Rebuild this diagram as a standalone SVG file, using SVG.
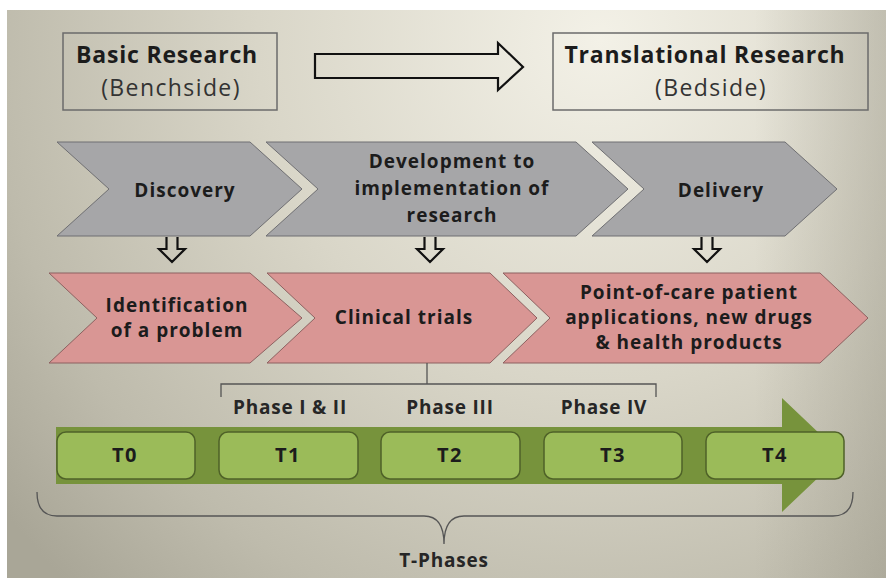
<svg xmlns="http://www.w3.org/2000/svg" width="886" height="578" viewBox="0 0 886 578">
  <defs>
    <radialGradient id="bg" cx="600" cy="40" r="760" gradientUnits="userSpaceOnUse">
      <stop offset="0" stop-color="#f3f1e7"/>
      <stop offset="0.45" stop-color="#d9d6c8"/>
      <stop offset="0.8" stop-color="#bebbac"/>
      <stop offset="1" stop-color="#a9a697"/>
    </radialGradient>
    <linearGradient id="edge" x1="0" y1="0" x2="1" y2="0">
      <stop offset="0.85" stop-color="#8e8b7c" stop-opacity="0"/>
      <stop offset="1" stop-color="#8e8b7c" stop-opacity="0.35"/>
    </linearGradient>
    <style>
      .t { font-family: "Open Sans", Lato, "Liberation Sans", sans-serif; fill: #1c1c1c; text-anchor: middle; }
      .b { font-weight: bold; }
      .head { font-size: 23px; letter-spacing: 0.8px; }
      .sub { font-size: 23px; letter-spacing: 1.4px; fill: #333; }
      .lbl { font-size: 19px; letter-spacing: 1px; }
      .ph { font-size: 19px; letter-spacing: 0.8px; fill: #262626; }
      .tl { font-size: 20px; letter-spacing: 1.5px; }
      .box { fill: none; stroke: #6b6b6b; stroke-width: 1.5; }
      .grey { fill: #a6a6a8; stroke: #6f6f72; stroke-width: 1; }
      .pink { fill: #d99694; stroke: #8d6160; stroke-width: 1; }
      .hollow { fill: none; stroke: #111; stroke-width: 2.2; stroke-linejoin: miter; }
      .tbox { fill: #9bbb59; stroke: #4f6228; stroke-width: 1.5; }
      .line { fill: none; stroke: #555; stroke-width: 1.3; }
    </style>
  </defs>

  <!-- slide background -->
  <rect x="0" y="0" width="886" height="578" fill="#ffffff"/>
  <rect x="7" y="10" width="879" height="568" fill="url(#bg)"/>
  <rect x="7" y="10" width="879" height="568" fill="url(#edge)"/>

  <!-- header boxes -->
  <g id="basic-research">
    <rect class="box" x="63" y="33" width="214" height="77"/>
    <text class="t b head" x="167" y="63">Basic Research</text>
    <text class="t sub" x="171" y="96">(Benchside)</text>
  </g>
  <g id="translational-research">
    <rect class="box" x="553" y="33" width="315" height="77"/>
    <text class="t b head" x="705" y="63">Translational Research</text>
    <text class="t sub" x="711" y="96">(Bedside)</text>
  </g>

  <!-- phase chevrons -->
  <g id="discovery">
    <polygon class="grey" points="57,142 250,142 302,189 250,236 57,236 109,189"/>
    <text class="t b lbl" x="185" y="197">Discovery</text>
  </g>
  <g id="development">
    <polygon class="grey" points="266,142 576,142 628,189 576,236 266,236 318,189"/>
    <text class="t b lbl" x="452" y="168">Development to</text>
    <text class="t b lbl" x="452" y="195">implementation of</text>
    <text class="t b lbl" x="452" y="222">research</text>
  </g>
  <g id="delivery">
    <polygon class="grey" points="592,142 785,142 837,189 785,236 592,236 644,189"/>
    <text class="t b lbl" x="721" y="197">Delivery</text>
  </g>

  <g id="identification">
    <polygon class="pink" points="49,273 250,273 302,318 250,363 49,363 97,318"/>
    <text class="t b lbl" x="177" y="312">Identification</text>
    <text class="t b lbl" x="177" y="337">of a problem</text>
  </g>
  <g id="clinical-trials">
    <polygon class="pink" points="267,273 490,273 537,318 490,363 267,363 315,318"/>
    <text class="t b lbl" x="404" y="324">Clinical trials</text>
  </g>
  <g id="point-of-care">
    <polygon class="pink" points="503,273 820,273 868,318 820,363 503,363 550,318"/>
    <text class="t b lbl" x="689" y="299">Point-of-care patient</text>
    <text class="t b lbl" x="689" y="324">applications, new drugs</text>
    <text class="t b lbl" x="689" y="349">&amp; health products</text>
  </g>

  <!-- timeline band -->
  <g id="timeline">
    <polygon fill="#77933c" points="56,427 782,427 782,398 842,455 782,512 782,484 56,484"/>
  </g>
  <g id="t0">
    <rect class="tbox" x="57" y="432" width="138" height="47" rx="9"/>
    <text class="t b tl" x="125" y="462">T0</text>
  </g>
  <g id="t1">
    <rect class="tbox" x="219" y="432" width="139" height="47" rx="9"/>
    <text class="t b tl" x="288" y="462">T1</text>
  </g>
  <g id="t2">
    <rect class="tbox" x="381" y="432" width="139" height="47" rx="9"/>
    <text class="t b tl" x="450" y="462">T2</text>
  </g>
  <g id="t3">
    <rect class="tbox" x="544" y="432" width="138" height="47" rx="9"/>
    <text class="t b tl" x="613" y="462">T3</text>
  </g>
  <g id="t4">
    <rect class="tbox" x="706" y="432" width="138" height="47" rx="9"/>
    <text class="t b tl" x="775" y="462">T4</text>
  </g>

  <!-- labels -->
  <g id="phase-labels">
    <text class="t b ph" x="290" y="414">Phase I &amp; II</text>
    <text class="t b ph" x="450" y="414">Phase III</text>
    <text class="t b ph" x="604" y="414">Phase IV</text>
    <text class="t b ph" x="444" y="567" font-size="20" letter-spacing="1">T-Phases</text>
  </g>

  <!-- connectors -->
  <g id="connectors">
    <path class="hollow" fill="#f6f4eb" d="M315,54 H498 V43 L523,67 L498,90 V78 H315 Z"/>
    <path class="hollow" d="M166.5,237 V249 H159 L172,262 L185,249 H177.5 V237"/>
    <path class="hollow" d="M424.5,237 V249 H417 L430,262 L443,249 H435.5 V237"/>
    <path class="hollow" d="M701.5,237 V249 H694 L707,262 L720,249 H712.5 V237"/>
    <path class="line" d="M427,363 V384 M221,397 V384 H656 V397"/>
    <path class="line" d="M37,492 Q37,516 57,516 H424 Q444,516 444,544 Q444,516 464,516 H833 Q853,516 853,492"/>
  </g>
</svg>
